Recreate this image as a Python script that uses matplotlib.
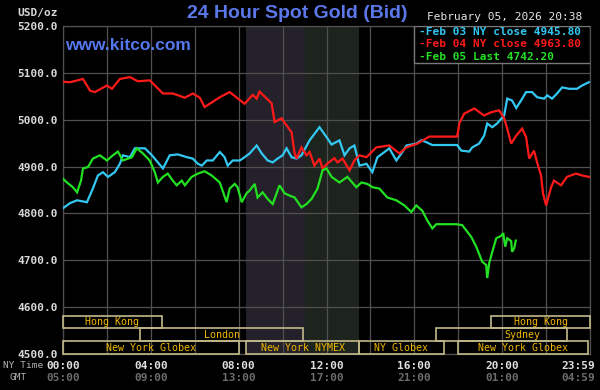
"""24 Hour Spot Gold (Bid) - kitco style chart."""
import matplotlib
matplotlib.use("Agg")
import matplotlib.pyplot as plt
import matplotlib.transforms as mtransforms
from matplotlib.patches import Rectangle

# --- data (NY time in hours, price in USD/oz) ---
feb03_hours = [0.00, 0.32, 0.64, 1.09, 1.36, 1.59, 1.82, 2.05, 2.36, 2.59, 2.73, 3.05, 3.27,
               3.73, 4.05, 4.32, 4.55, 4.86, 5.23, 5.64, 5.91, 6.14, 6.32, 6.55, 6.82, 7.14,
               7.36, 7.50, 7.73, 8.05, 8.27, 8.50, 8.82, 9.05, 9.32, 9.55, 9.77, 10.00, 10.18,
               10.41, 10.64, 10.86, 11.23, 11.68, 12.00, 12.23, 12.59, 12.82, 13.05, 13.27,
               13.50, 13.82, 14.09, 14.32, 14.64, 14.86, 15.18, 15.41, 15.64, 16.09, 16.32,
               16.55, 16.82, 17.95, 18.14, 18.50, 18.64, 18.95, 19.18, 19.32, 19.55, 19.77,
               20.09, 20.23, 20.45, 20.64, 20.86, 21.09, 21.36, 21.59, 21.91, 22.05, 22.27,
               22.50, 22.73, 23.05, 23.41, 23.64, 23.95]
feb03_values = [4811, 4822, 4828, 4824, 4853, 4881, 4888, 4878, 4888, 4906, 4924, 4920, 4939,
                4939, 4924, 4909, 4896, 4924, 4926, 4920, 4917, 4906, 4902, 4913, 4913, 4931,
                4920, 4902, 4913, 4913, 4920, 4928, 4945, 4928, 4913, 4909, 4917, 4924, 4939,
                4920, 4917, 4924, 4956, 4984, 4963, 4947, 4956, 4924, 4939, 4945,
                4902, 4906, 4888, 4920, 4931, 4939, 4913, 4928, 4945, 4949, 4956,
                4952, 4946, 4946, 4934, 4932, 4941, 4949, 4966, 4992, 4984, 4992,
                5009, 5045, 5041, 5025, 5041, 5059, 5059, 5048, 5045, 5052, 5045,
                5056, 5069, 5066, 5066, 5073, 5080]

feb04_hours = [0.00, 0.32, 0.91, 1.23, 1.45, 2.00, 2.23, 2.59, 3.05, 3.41, 3.95, 4.55, 5.00,
               5.55, 5.91, 6.23, 6.45, 7.14, 7.59, 8.27, 8.64, 8.82, 8.95, 9.50, 9.64, 9.95,
               10.18, 10.41, 10.55, 10.64, 10.86, 11.09, 11.23, 11.45, 11.68, 11.82, 12.05,
               12.36, 12.50, 12.73, 13.05, 13.27, 13.50, 13.82, 14.27, 14.86, 15.32, 15.64,
               16.14, 16.68, 17.95, 18.05, 18.27, 18.73, 19.18, 19.50, 19.86, 20.09, 20.23,
               20.41, 20.64, 20.91, 21.09, 21.23, 21.45, 21.59, 21.77, 21.86, 22.00, 22.23,
               22.36, 22.68, 22.95, 23.36, 23.64, 23.95]
feb04_values = [5081, 5080, 5087, 5062, 5059, 5073, 5066, 5087, 5091, 5082, 5084, 5056, 5056,
                5047, 5056, 5047, 5027, 5048, 5059, 5034, 5053, 5045, 5060, 5035, 4995, 5003,
                4988, 4973, 4928, 4917, 4941, 4924, 4931, 4902, 4917, 4896, 4907,
                4918, 4909, 4917, 4892, 4913, 4924, 4920, 4941, 4945, 4928, 4941,
                4949, 4964, 4964, 4992, 5013, 5024, 5009, 5016, 5020, 5003, 4981,
                4949, 4966, 4981, 4963, 4917, 4934, 4909, 4881, 4843, 4817, 4856,
                4870, 4860, 4878, 4885, 4881, 4878]

feb05_hours = [0.00, 0.18, 0.45, 0.64, 0.82, 0.91, 1.14, 1.36, 1.68, 2.00, 2.27, 2.50, 2.73,
               3.14, 3.36, 3.64, 3.95, 4.18, 4.32, 4.55, 4.77, 5.00, 5.18, 5.41, 5.55, 5.86,
               6.14, 6.45, 6.77, 7.14, 7.45, 7.59, 7.82, 7.95, 8.14, 8.36, 8.50, 8.73, 8.86,
               9.09, 9.32, 9.55, 9.86, 10.09, 10.32, 10.55, 10.86, 11.09, 11.32, 11.59, 11.82,
               12.00, 12.23, 12.59, 12.95, 13.36, 13.59, 13.86, 14.09, 14.41, 14.77, 15.18,
               15.55, 15.86, 16.09, 16.36, 16.59, 16.82, 17.00, 17.91, 18.18, 18.59, 18.82,
               19.09, 19.27, 19.32, 19.41, 19.55, 19.73, 19.95, 20.05, 20.14, 20.23, 20.41,
               20.45, 20.55, 20.62]
feb05_values = [4874, 4866, 4856, 4845, 4870, 4896, 4899, 4917, 4924, 4913, 4924, 4932, 4913,
                4920, 4939, 4928, 4913, 4888, 4866, 4878, 4885, 4870, 4860, 4870, 4860, 4878,
                4885, 4890, 4881, 4866, 4824, 4853, 4863, 4856, 4824, 4843, 4849, 4863, 4834,
                4845, 4831, 4820, 4860, 4843, 4838, 4834, 4813, 4820, 4831, 4853, 4892,
                4896, 4878, 4866, 4878, 4856, 4866, 4863, 4856, 4853, 4834, 4828,
                4817, 4803, 4817, 4806, 4785, 4768, 4777, 4777, 4775, 4750, 4729,
                4697, 4690, 4662, 4694, 4718, 4747, 4752, 4758, 4729, 4747, 4741,
                4718, 4726, 4742]

series_labels = ["Feb 03 NY close 4945.80", "Feb 04 NY close 4963.80", "Feb 05 Last 4742.20"]
series_colors = ["#33c8f2", "#ff1a1a", "#22e022"]

y_ticks = [4500, 4600, 4700, 4800, 4900, 5000, 5100, 5200]
x_ticks = [0, 4, 8, 12, 16, 20, 23.98]
ny_labels = ["00:00", "04:00", "08:00", "12:00", "16:00", "20:00", "23:59"]
gmt_labels = ["05:00", "09:00", "13:00", "17:00", "21:00", "01:00", "04:59"]

# trading sessions: name, row (0 = bottom), start, end (NY hours)
session_names = ["Hong Kong", "London", "New York Globex", "New York NYMEX", "NY Globex",
                 "Sydney", "Hong Kong", "New York Globex"]
session_rows = [2, 1, 0, 0, 0, 1, 2, 0]
session_start = [0.0, 3.5, 0.0, 8.33, 13.5, 17.0, 19.5, 18.0]
session_end = [4.5, 10.95, 8.0, 13.5, 17.33, 22.95, 24.0, 23.9]

# shaded bands (London/NY overlap, NY only)
band_start = [8.33, 11.0]
band_end = [11.0, 13.5]
band_colors = ["#24212a", "#1d231d"]

# --- figure ---
MONO = "DejaVu Sans Mono"
fig = plt.figure(figsize=(6, 3.9), dpi=100, facecolor="black")
ax = fig.add_axes([63 / 600, 36 / 390, 527 / 600, 328 / 390], facecolor="black")
ax.set_xlim(0, 24)
ax.set_ylim(4500, 5200)

for s, e, c in zip(band_start, band_end, band_colors):
    ax.axvspan(s, e, color=c, lw=0, zorder=0)

ax.grid(True, color="#505050", lw=0.9, zorder=1)
ax.set_axisbelow(True)
for sp in ax.spines.values():
    sp.set_color("#505050")
    sp.set_linewidth(0.9)

ax.set_yticks(y_ticks)
ax.set_yticklabels([f"{v:.1f}" for v in y_ticks], fontfamily=MONO, fontweight="bold",
                   fontsize=8, color="#d8d8d8")
ax.tick_params(axis="both", length=0, pad=4)

# x tick labels: NY time (bottom) + GMT (secondary)
ax.set_xticks(range(0, 25, 2))
ax.set_xticklabels([])
lab_ax = ax.secondary_xaxis("bottom")
lab_ax.set_xticks(x_ticks)
lab_ax.set_xticklabels(ny_labels, fontfamily=MONO, fontweight="bold", fontsize=8,
                       color="#e0e0e0")
lab_ax.tick_params(length=0, pad=5)
gmt_ax = ax.secondary_xaxis("bottom")
gmt_ax.set_xticks(x_ticks)
gmt_ax.set_xticklabels(gmt_labels, fontfamily=MONO, fontweight="bold", fontsize=8,
                       color="#6c6c6c")
gmt_ax.tick_params(length=0, pad=13.5)
for sa in (lab_ax, gmt_ax):
    sa.spines["bottom"].set_visible(False)
    last = sa.get_xticklabels()[-1]
    last.set_transform(last.get_transform()
                       + mtransforms.ScaledTranslation(-0.11, 0, fig.dpi_scale_trans))

# sessions
row_bounds = [(4500, 4527), (4527, 4555), (4555, 4581)]
for name, row, s, e in zip(session_names, session_rows, session_start, session_end):
    y0, y1 = row_bounds[row]
    ax.add_patch(Rectangle((s, y0), e - s, y1 - y0, fill=False, ec="#c2b98a", lw=1.2,
                           zorder=3, clip_on=False))
    cx = (s + e) / 2 if name != "Sydney" else 20.9
    ax.text(cx, (y0 + y1) / 2, name, ha="center", va="center", fontfamily=MONO,
            fontsize=7.2, color="#f0b800", zorder=4)

# price lines
for h, v, c in zip([feb03_hours, feb04_hours, feb05_hours],
                   [feb03_values, feb04_values, feb05_values], series_colors):
    ax.plot(h, v, color=c, lw=1.6, zorder=5, solid_joinstyle="miter")

# legend box
ax.add_patch(Rectangle((16.0 / 24, 0.887), 8 / 24, 0.113, transform=ax.transAxes,
                       facecolor="black", edgecolor="#777777", lw=1, zorder=6))
for i, (lab, c) in enumerate(zip(series_labels, series_colors)):
    ax.text(0.676, 0.981 - i * 0.037, "-" + lab, transform=ax.transAxes, ha="left",
            va="center", fontfamily=MONO, fontweight="bold", fontsize=8, color=c, zorder=7)

# texts
ax.text(0.004, 0.941, "www.kitco.com", transform=ax.transAxes, ha="left", va="center",
        fontfamily="Liberation Sans", fontweight="bold", fontsize=12.5, color="#5577ee",
        zorder=7)
fig.text(0.495, 1 - 14 / 390, "24 Hour Spot Gold (Bid)", ha="center", va="center",
         fontfamily="Liberation Sans", fontweight="bold", fontsize=14, color="#5a78ea")
fig.text(427 / 600, 1 - 17 / 390, "February 05, 2026 20:38", ha="left", va="center",
         fontfamily=MONO, fontsize=8, color="#e6e6e6")
fig.text(58 / 600, 1 - 13 / 390, "USD/oz", ha="right", va="center",
         fontfamily=MONO, fontweight="bold", fontsize=8, color="#d8d8d8")
fig.text(3 / 600, 1 - 366 / 390, "NY Time", ha="left", va="center",
         fontfamily=MONO, fontsize=6.8, color="#b0b0b0")
fig.text(10 / 600, 1 - 378 / 390, "GMT", ha="left", va="center",
         fontfamily=MONO, fontsize=6.8, color="#b0b0b0")

fig.savefig("out.png", dpi=100, facecolor="black")
